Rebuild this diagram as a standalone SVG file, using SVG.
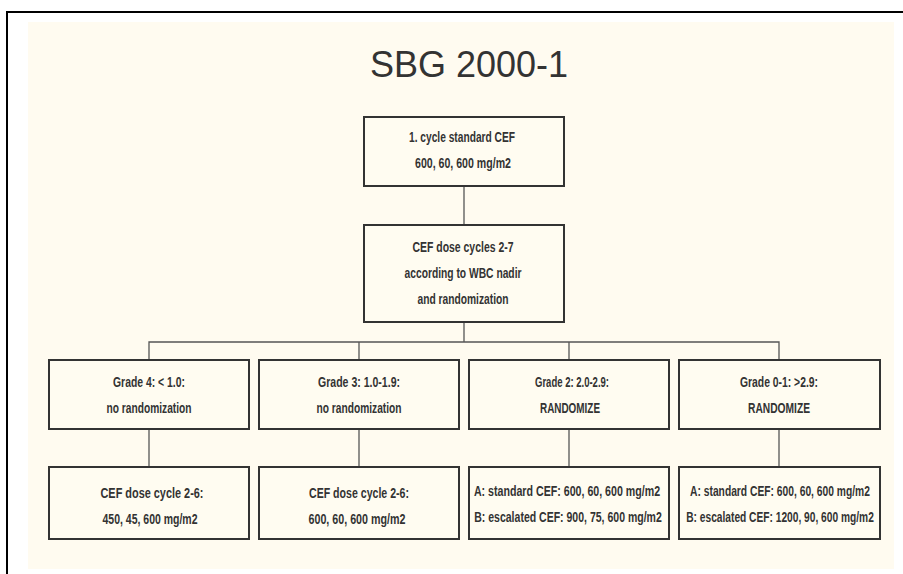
<svg xmlns="http://www.w3.org/2000/svg" width="903" height="574" viewBox="0 0 903 574">
<style>
.box{fill:#fffcf1;stroke:#333;stroke-width:2}
.t{font-family:"Liberation Sans",Arial,sans-serif;font-weight:bold;font-size:15px;fill:#333;text-anchor:middle}
.conn{fill:none;stroke:#555;stroke-width:1.3}
</style>
<rect x="0" y="0" width="903" height="574" fill="#ffffff"/>
<rect x="7" y="12" width="910" height="580" fill="#ffffff" stroke="#000" stroke-width="2"/>
<rect x="28" y="22" width="866" height="547" fill="#fffbf0"/>
<text x="469" y="77" font-family="Liberation Sans,Arial,sans-serif" font-size="36" fill="#333" text-anchor="middle">SBG 2000-1</text>
<g id="connectors">
<line class="conn" x1="464" y1="186" x2="464" y2="225"/>
<line class="conn" x1="464" y1="322" x2="464" y2="342"/>
<polyline class="conn" points="149,360 149,342 779,342 779,360"/>
<line class="conn" x1="359" y1="342" x2="359" y2="360"/>
<line class="conn" x1="569" y1="342" x2="569" y2="360"/>
<line class="conn" x1="149" y1="429" x2="149" y2="467"/>
<line class="conn" x1="359" y1="429" x2="359" y2="467"/>
<line class="conn" x1="569" y1="429" x2="569" y2="467"/>
<line class="conn" x1="779" y1="429" x2="779" y2="467"/>
</g>
<g id="n1">
<rect class="box" x="364" y="117" width="200" height="69"/>
<text class="t" x="462" y="142" textLength="106" lengthAdjust="spacingAndGlyphs">1. cycle standard CEF</text>
<text class="t" x="463" y="168" textLength="96" lengthAdjust="spacingAndGlyphs">600, 60, 600 mg/m2</text>
</g>
<g id="n2">
<rect class="box" x="364" y="225" width="200" height="97"/>
<text class="t" x="463" y="252" textLength="101" lengthAdjust="spacingAndGlyphs">CEF dose cycles 2-7</text>
<text class="t" x="463" y="278" textLength="117" lengthAdjust="spacingAndGlyphs">according to WBC nadir</text>
<text class="t" x="463" y="304" textLength="91" lengthAdjust="spacingAndGlyphs">and randomization</text>
</g>
<g id="g4">
<rect class="box" x="49" y="360" width="200" height="69"/>
<text class="t" x="149" y="387" textLength="72" lengthAdjust="spacingAndGlyphs">Grade 4: &lt; 1.0:</text>
<text class="t" x="149" y="413" textLength="85" lengthAdjust="spacingAndGlyphs">no randomization</text>
</g>
<g id="g3">
<rect class="box" x="259" y="360" width="200" height="69"/>
<text class="t" x="359" y="387" textLength="82" lengthAdjust="spacingAndGlyphs">Grade 3: 1.0-1.9:</text>
<text class="t" x="359" y="413" textLength="85" lengthAdjust="spacingAndGlyphs">no randomization</text>
</g>
<g id="g2">
<rect class="box" x="469" y="360" width="200" height="69"/>
<text class="t" x="572" y="387" textLength="74" lengthAdjust="spacingAndGlyphs">Grade 2: 2.0-2.9:</text>
<text class="t" x="570" y="413" textLength="60" lengthAdjust="spacingAndGlyphs">RANDOMIZE</text>
</g>
<g id="g01">
<rect class="box" x="679" y="360" width="201" height="69"/>
<text class="t" x="779" y="387" textLength="78" lengthAdjust="spacingAndGlyphs">Grade 0-1: &gt;2.9:</text>
<text class="t" x="779" y="413" textLength="62" lengthAdjust="spacingAndGlyphs">RANDOMIZE</text>
</g>
<g id="d4">
<rect class="box" x="49" y="467" width="200" height="72"/>
<text class="t" x="152" y="498" textLength="103" lengthAdjust="spacingAndGlyphs">CEF dose cycle 2-6:</text>
<text class="t" x="150" y="524" textLength="95" lengthAdjust="spacingAndGlyphs">450, 45, 600 mg/m2</text>
</g>
<g id="d3">
<rect class="box" x="259" y="467" width="200" height="72"/>
<text class="t" x="359" y="498" textLength="100" lengthAdjust="spacingAndGlyphs">CEF dose cycle 2-6:</text>
<text class="t" x="357" y="524" textLength="97" lengthAdjust="spacingAndGlyphs">600, 60, 600 mg/m2</text>
</g>
<g id="d2">
<rect class="box" x="469" y="467" width="200" height="72"/>
<g transform="translate(567,0) scale(0.7,1)"><text class="t" x="0" y="496" textLength="266" lengthAdjust="spacingAndGlyphs">A: standard CEF: 600, 60, 600 mg/m2</text></g>
<g transform="translate(568,0) scale(0.7,1)"><text class="t" x="0" y="522" textLength="268" lengthAdjust="spacingAndGlyphs">B: escalated CEF: 900, 75, 600 mg/m2</text></g>
</g>
<g id="d01">
<rect class="box" x="679" y="467" width="201" height="72" stroke-width="2.6"/>
<g transform="translate(780,0) scale(0.7,1)"><text class="t" x="0" y="496" textLength="257" lengthAdjust="spacingAndGlyphs">A: standard CEF: 600, 60, 600 mg/m2</text></g>
<g transform="translate(780,0) scale(0.7,1)"><text class="t" x="0" y="522" textLength="268" lengthAdjust="spacingAndGlyphs">B: escalated CEF: 1200, 90, 600 mg/m2</text></g>
</g>
</svg>
